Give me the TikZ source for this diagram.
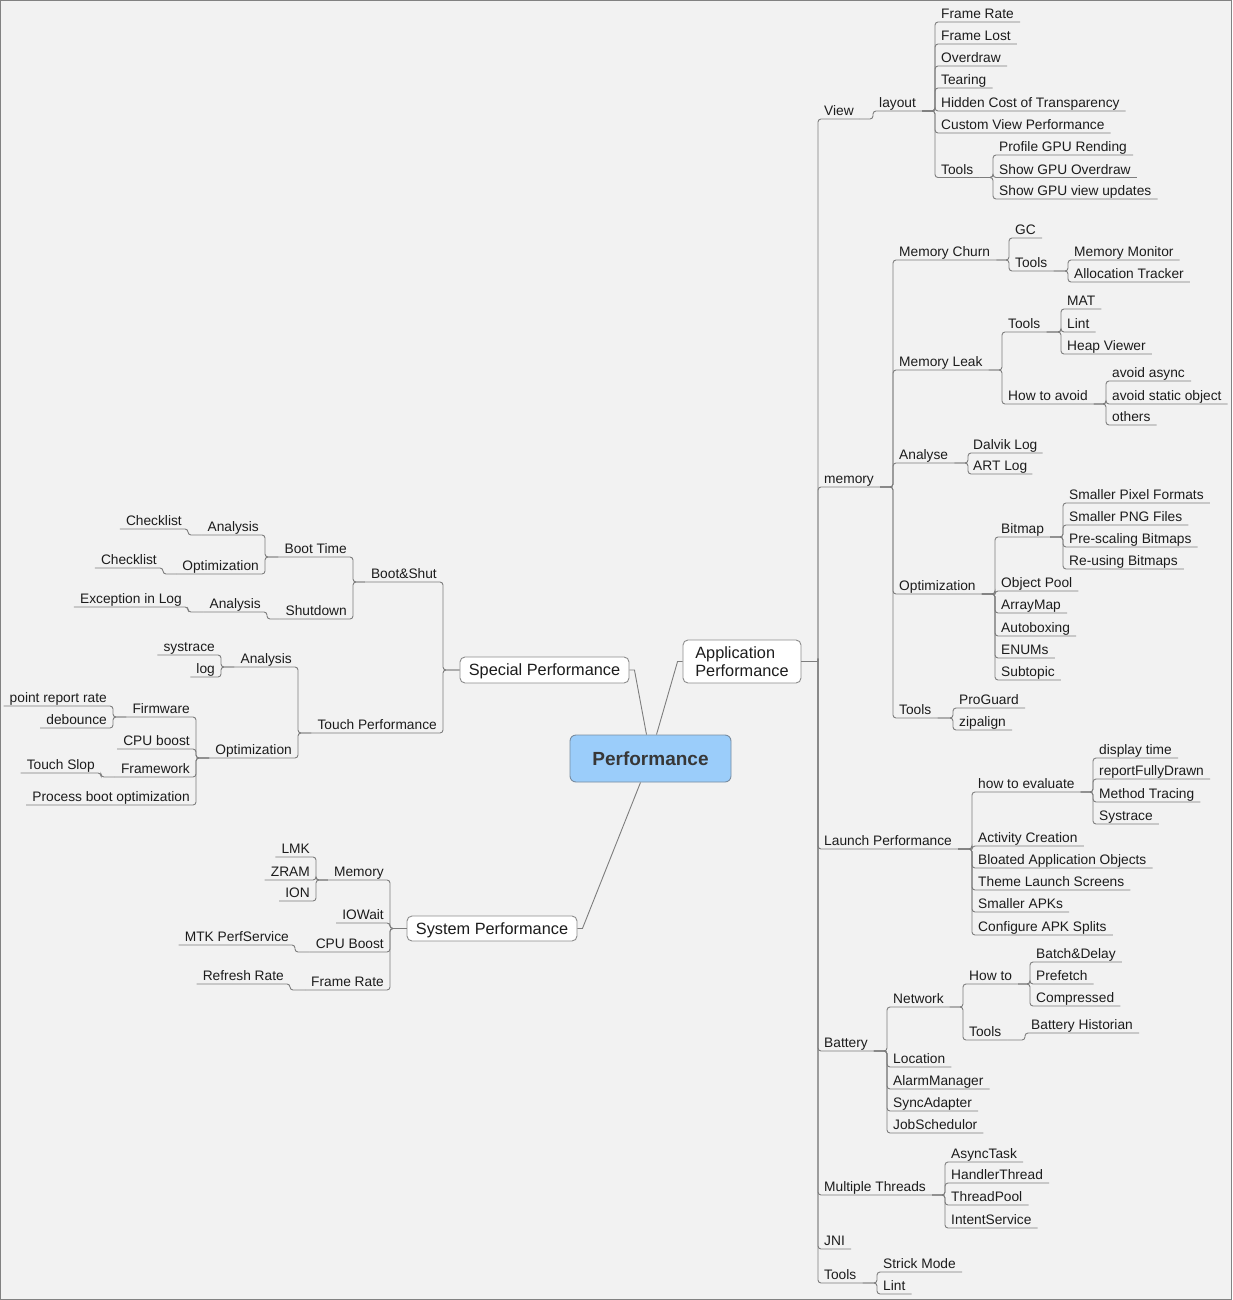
\documentclass[tikz,border=0pt]{standalone}
\usepackage{fontspec}
\setmainfont{Liberation Sans}
\definecolor{bg}{RGB}{242,242,242}
\definecolor{frm}{RGB}{130,130,130}
\definecolor{lnc}{RGB}{125,125,125}
\definecolor{txt}{RGB}{28,28,28}
\definecolor{bxc}{RGB}{140,140,140}
\definecolor{pfill}{RGB}{155,205,250}
\definecolor{pdraw}{RGB}{120,140,160}
\newcommand\RB[2]{\foreach \c in {#2}{\draw[lnk] (#1) -- (#1 -| \c.south west) -- (\c.south west) -- (\c.south east);}}
\newcommand\LB[2]{\foreach \c in {#2}{\draw[lnk] (#1) -- (#1 -| \c.south east) -- (\c.south east) -- (\c.south west);}}
\tikzset{
  lbl/.style={inner xsep=6pt, inner ysep=0.5pt, text height=10pt, text depth=2.5pt,
    font=\fontsize{13.75}{16}\selectfont, text=txt},
  rl/.style={lbl, anchor=south west},
  ll/.style={lbl, anchor=south east},
  lnk/.style={draw=lnc, line width=0.9pt, rounded corners=3pt},
  cl/.style={draw=lnc, line width=0.9pt},
  bx/.style={draw=bxc, rounded corners=5pt, fill=white, line width=0.9pt,
    font=\fontsize{16.3}{18}\selectfont, text=txt, inner sep=0pt},
}
\begin{document}
\begin{tikzpicture}[x=1pt,y=-1pt]
\useasboundingbox (0,0) rectangle (1232,1300);
\draw[draw=frm, fill=bg, line width=1pt] (0.5,0.5) rectangle (1231.5,1299.5);

% central boxes
\node[draw=pdraw, fill=pfill, rounded corners=6pt, line width=0.9pt, minimum width=161pt, minimum height=47pt,
  inner sep=0pt, font=\fontsize{19}{22}\selectfont\bfseries, text={rgb,255:red,55;green,55;blue,55}] (perf) at (650.5,758.5) {Performance};
\node[bx, minimum width=118pt, minimum height=43pt, align=left] (app) at (742,661.5) {Application\\Performance};
\node[bx, minimum width=169pt, minimum height=26pt, text height=14pt, text depth=2.3pt] (spec) at (544.5,670) {Special Performance};
\node[bx, minimum width=170pt, minimum height=25pt, text height=14pt, text depth=2.3pt] (sys) at (492,928.5) {System Performance};

\draw[cl] ([xshift=-4pt]perf.north) -- ([xshift=5pt]spec.east) -- (spec.east);
\draw[cl] ([xshift=6pt]perf.north) -- ([xshift=-5pt]app.west) -- (app.west);
\draw[cl] ([xshift=-10pt]perf.south) -- ([xshift=5pt]sys.east) -- (sys.east);

% ---------------- Application Performance (right) ----------------
\coordinate (appT) at (818,661.5);
\draw[cl] (app.east) -- (appT);
\node[rl] (view) at (818,119) {View};
\node[rl] (memory) at (818,487) {memory};
\node[rl] (launch) at (818,849) {Launch Performance};
\node[rl] (battery) at (818,1051) {Battery};
\node[rl] (threads) at (818,1195) {Multiple Threads};
\node[rl] (jni) at (818,1249) {JNI};
\node[rl] (atools) at (818,1283) {Tools};
\RB{appT}{view,memory,launch,battery,threads,jni,atools}

% View
\node[rl] (layout) at (873,111) {layout};
\RB{view.south east}{layout}
\node[rl] (fr) at (935,22) {Frame Rate};
\node[rl] (fl) at (935,44) {Frame Lost};
\node[rl] (od) at (935,66) {Overdraw};
\node[rl] (tear) at (935,88) {Tearing};
\node[rl] (hct) at (935,111) {Hidden Cost of Transparency};
\node[rl] (cvp) at (935,133) {Custom View Performance};
\node[rl] (vtools) at (935,177.5) {Tools};
\RB{layout.south east}{fr,fl,od,tear,hct,cvp,vtools}
\node[rl] (pgr) at (993,155) {Profile GPU Rending};
\node[rl] (sgo) at (993,177.5) {Show GPU Overdraw};
\node[rl] (sgv) at (993,199) {Show GPU view updates};
\RB{vtools.south east}{pgr,sgo,sgv}

% memory
\node[rl] (mchurn) at (893,260) {Memory Churn};
\node[rl] (mleak) at (893,370) {Memory Leak};
\node[rl] (analyse) at (893,463) {Analyse};
\node[rl] (mopt) at (893,594) {Optimization};
\node[rl] (mtools) at (893,718) {Tools};
\RB{memory.south east}{mchurn,mleak,analyse,mopt,mtools}
\node[rl] (gc) at (1009,238) {GC};
\node[rl] (mctools) at (1009,271) {Tools};
\RB{mchurn.south east}{gc,mctools}
\node[rl] (mmon) at (1068,260) {Memory Monitor};
\node[rl] (atrack) at (1068,282) {Allocation Tracker};
\RB{mctools.south east}{mmon,atrack}
\node[rl] (mltools) at (1002,332) {Tools};
\node[rl] (howavoid) at (1002,404) {How to avoid};
\RB{mleak.south east}{mltools,howavoid}
\node[rl] (mat) at (1061,309) {MAT};
\node[rl] (lintA) at (1061,332) {Lint};
\node[rl] (heap) at (1061,354) {Heap Viewer};
\RB{mltools.south east}{mat,lintA,heap}
\node[rl] (aasync) at (1106,381) {avoid async};
\node[rl] (astatic) at (1106,404) {avoid static object};
\node[rl] (others) at (1106,425) {others};
\RB{howavoid.south east}{aasync,astatic,others}
\node[rl, inner xsep=5pt] (dalvik) at (968,453) {Dalvik Log};
\node[rl, inner xsep=5pt] (art) at (968,474) {ART Log};
\RB{analyse.south east}{dalvik,art}
\node[rl] (bitmap) at (995,537) {Bitmap};
\node[rl] (opool) at (995,591) {Object Pool};
\node[rl] (amap) at (995,613) {ArrayMap};
\node[rl] (abox) at (995,636) {Autoboxing};
\node[rl] (enums) at (995,658) {ENUMs};
\node[rl] (subtopic) at (995,680) {Subtopic};
\RB{mopt.south east}{bitmap,opool,amap,abox,enums,subtopic}
\node[rl] (spf) at (1063,503) {Smaller Pixel Formats};
\node[rl] (spng) at (1063,525) {Smaller PNG Files};
\node[rl] (psb) at (1063,547) {Pre-scaling Bitmaps};
\node[rl] (rub) at (1063,569) {Re-using Bitmaps};
\RB{bitmap.south east}{spf,spng,psb,rub}
\node[rl] (proguard) at (953,708) {ProGuard};
\node[rl] (zipalign) at (953,730) {zipalign};
\RB{mtools.south east}{proguard,zipalign}

% Launch Performance
\node[rl] (htoe) at (972,792) {how to evaluate};
\node[rl] (actc) at (972,846) {Activity Creation};
\node[rl] (bloat) at (972,868) {Bloated Application Objects};
\node[rl] (theme) at (972,890) {Theme Launch Screens};
\node[rl] (sapk) at (972,912) {Smaller APKs};
\node[rl] (cfg) at (972,935) {Configure APK Splits};
\RB{launch.south east}{htoe,actc,bloat,theme,sapk,cfg}
\node[rl] (dtime) at (1093,758) {display time};
\node[rl] (rfd) at (1093,779) {reportFullyDrawn};
\node[rl] (mtrace) at (1093,802) {Method Tracing};
\node[rl] (systr) at (1093,824) {Systrace};
\RB{htoe.south east}{dtime,rfd,mtrace,systr}

% Battery
\node[rl] (network) at (887,1007) {Network};
\node[rl] (location) at (887,1067) {Location};
\node[rl] (alarm) at (887,1089) {AlarmManager};
\node[rl] (sync) at (887,1111) {SyncAdapter};
\node[rl] (job) at (887,1133) {JobSchedulor};
\RB{battery.south east}{network,location,alarm,sync,job}
\node[rl] (howto) at (963,984) {How to};
\node[rl] (ntools) at (963,1040) {Tools};
\RB{network.south east}{howto,ntools}
\node[rl] (batch) at (1030,962) {Batch\&Delay};
\node[rl] (prefetch) at (1030,984) {Prefetch};
\node[rl] (compressed) at (1030,1006) {Compressed};
\RB{howto.south east}{batch,prefetch,compressed}
\node[rl] (bhist) at (1025,1033) {Battery Historian};
\RB{ntools.south east}{bhist}

% Multiple Threads
\node[rl] (async) at (945,1162) {AsyncTask};
\node[rl] (hthread) at (945,1183) {HandlerThread};
\node[rl] (tpool) at (945,1205) {ThreadPool};
\node[rl] (isvc) at (945,1228) {IntentService};
\RB{threads.south east}{async,hthread,tpool,isvc}

% Tools
\node[rl] (strick) at (877,1272) {Strick Mode};
\node[rl] (lintB) at (877,1294) {Lint};
\RB{atools.south east}{strick,lintB}

% ---------------- Special Performance (left) ----------------
\coordinate (specT) at (spec.west);
\node[ll] (bootshut) at (443,582) {Boot\&Shut};
\node[ll] (touch) at (443,733) {Touch Performance};
\LB{specT}{bootshut,touch}
\node[ll] (boottime) at (353,557) {Boot Time};
\node[ll] (shutdown) at (353,619) {Shutdown};
\LB{bootshut.south west}{boottime,shutdown}
\node[ll] (btan) at (265,535) {Analysis};
\node[ll] (btopt) at (265,574) {Optimization};
\LB{boottime.south west}{btan,btopt}
\node[ll] (clA) at (188,529) {Checklist};
\LB{btan.south west}{clA}
\node[ll] (clB) at (163,568) {Checklist};
\LB{btopt.south west}{clB}
\node[ll] (sdan) at (267,612) {Analysis};
\LB{shutdown.south west}{sdan}
\node[ll] (exlog) at (188,607) {Exception in Log};
\LB{sdan.south west}{exlog}

\node[ll] (tan) at (298,667) {Analysis};
\node[ll] (topt) at (298,758) {Optimization};
\LB{touch.south west}{tan,topt}
\node[ll] (systrace) at (221,655) {systrace};
\node[ll] (logn) at (221,677) {log};
\LB{tan.south west}{systrace,logn}
\node[ll] (firm) at (196,717) {Firmware};
\node[ll] (cpub) at (196,749) {CPU boost};
\node[ll] (frmw) at (196,777) {Framework};
\node[ll] (pbo) at (196,805) {Process boot optimization};
\LB{topt.south west}{firm,cpub,frmw,pbo}
\node[ll] (prr) at (113,706) {point report rate};
\node[ll] (deb) at (113,728) {debounce};
\LB{firm.south west}{prr,deb}
\node[ll] (tslop) at (101,773) {Touch Slop};
\LB{frmw.south west}{tslop}

% ---------------- System Performance (left) ----------------
\coordinate (sysT) at (sys.west);
\node[ll] (smem) at (390,880) {Memory};
\node[ll] (iow) at (390,923) {IOWait};
\node[ll] (cpuboost) at (390,952) {CPU Boost};
\node[ll] (sfr) at (390,990) {Frame Rate};
\LB{sysT}{smem,iow,cpuboost,sfr}
\node[ll] (lmk) at (316,857) {LMK};
\node[ll] (zram) at (316,880) {ZRAM};
\node[ll] (ion) at (316,901) {ION};
\LB{smem.south west}{lmk,zram,ion}
\node[ll] (mtk) at (295,945) {MTK PerfService};
\LB{cpuboost.south west}{mtk}
\node[ll] (refresh) at (290,984) {Refresh Rate};
\LB{sfr.south west}{refresh}
\end{tikzpicture}
\end{document}
